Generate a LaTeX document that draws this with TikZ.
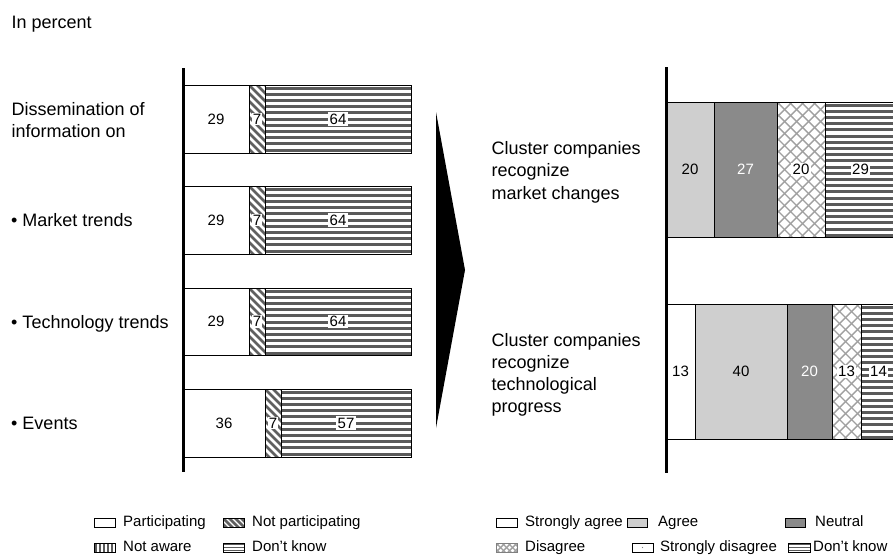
\documentclass[tikz,border=0pt]{standalone}
\usepackage{fontspec}
\setmainfont{Liberation Sans}
\definecolor{stripecol}{HTML}{5A5A5A}
\definecolor{diagcol}{HTML}{606060}
\definecolor{crosscol}{HTML}{A0A0A0}
\definecolor{agreecol}{HTML}{CFCFCF}
\definecolor{neutralcol}{HTML}{8A8A8A}
\tikzset{
  lbl/.style={font=\fontsize{18}{21}\selectfont, inner sep=0pt, anchor=base west},
  num/.style={font=\fontsize{15}{18}\selectfont, inner sep=0pt},
  numbox/.style={num, fill=white, inner sep=1.3pt},
  legtext/.style={font=\fontsize{15}{18}\selectfont, inner sep=0pt, anchor=base west},
  seg/.style={draw=black, line width=0.9pt},
  axisline/.style={line width=3pt},
}
% horizontal stripes: [period]{x1}{y1}{x2}{y2}
\newcommand\HStripes[5][6.2]{%
  \begin{scope}
    \clip (#2,#3) rectangle (#4,#5);
    \fill[white] (#2,#3) rectangle (#4,#5);
    \foreach \k in {0,...,25}
      \draw[stripecol, line width=#1/2] (#2,#3+\k*#1+#1/2) -- (#4,#3+\k*#1+#1/2);
  \end{scope}}
% vertical stripes
\newcommand\VStripes[5][4]{%
  \begin{scope}
    \clip (#2,#3) rectangle (#4,#5);
    \fill[white] (#2,#3) rectangle (#4,#5);
    \foreach \k in {0,...,10}
      \draw[stripecol, line width=#1/2] (#2+\k*#1+#1/2,#3) -- (#2+\k*#1+#1/2,#5);
  \end{scope}}
% diagonal stripes running down to the right
\newcommand\DStripes[5][8]{%
  \begin{scope}
    \clip (#2,#3) rectangle (#4,#5);
    \fill[white] (#2,#3) rectangle (#4,#5);
    \foreach \k in {-14,...,4}
      \draw[diagcol, line width=2.6pt] (#2+\k*#1,#3) -- ++(130,130);
  \end{scope}}
% diagonal cross-hatch
\newcommand\XHatch[5][12]{%
  \begin{scope}
    \clip (#2,#3) rectangle (#4,#5);
    \fill[white] (#2,#3) rectangle (#4,#5);
    \foreach \k in {-15,...,6} {
      \draw[crosscol, line width=1.4pt] (#2+\k*#1,#3) -- ++(150,150);
      \draw[crosscol, line width=1.4pt] (#2+\k*#1,#5) -- ++(150,-150);
    }
  \end{scope}}
\begin{document}
\begin{tikzpicture}[x=1pt,y=-1pt]
\useasboundingbox (0,0) rectangle (893,557);
\fill[white] (0,0) rectangle (893,557);

\node[lbl] (unit) at (11.5,28) {In percent};

% ---------- left chart ----------
\node[lbl] (d1a) at (11.5,115.7) {Dissemination of};
\node[lbl] (d1b) at (11.5,137) {information on};
\node[lbl] (d2) at (11,226.7) {• Market trends};
\node[lbl] (d3) at (11,328) {• Technology trends};
\node[lbl] (d4) at (11,429) {• Events};

% bars: participating / not participating / don't know
\foreach \yt/\yb/\xa/\xb/\pa/\pb/\pc/\nm in {85/153/249/265/29/7/64/b1, 186/254/249/265/29/7/64/b2, 288/355/249/265/29/7/64/b3, 389/457/265/281/36/7/57/b4}{
  \fill[white] (183,\yt) rectangle (\xa,\yb);
  \DStripes{\xa}{\yt}{\xb}{\yb}
  \HStripes{\xb}{\yt}{411}{\yb}
  \draw[seg] (183,\yt) rectangle (411,\yb);
  \draw[seg] (\xa,\yt) -- (\xa,\yb);
  \draw[seg] (\xb,\yt) -- (\xb,\yb);
  \node[num] (\nm p) at ({(183+\xa)/2},{(\yt+\yb)/2}) {\pa};
  \node[numbox] (\nm n) at ({(\xa+\xb)/2},{(\yt+\yb)/2}) {\pb};
  \node[numbox] (\nm d) at ({(\xb+411)/2},{(\yt+\yb)/2}) {\pc};
}
\coordinate (la1) at (183,68);
\coordinate (la2) at (183,472);
\draw[axisline] (la1) -- (la2);

% ---------- transition arrow ----------
\coordinate (ar1) at (436,112);
\coordinate (ar2) at (465,270);
\coordinate (ar3) at (436,428);
\fill[black] (ar1) -- (ar2) -- (ar3) -- cycle;

% ---------- right chart ----------
\node[lbl] (c1a) at (491.5,154) {Cluster companies};
\node[lbl] (c1b) at (491.5,176.5) {recognize};
\node[lbl] (c1c) at (491.5,199) {market changes};
\node[lbl] (c2a) at (491.5,346) {Cluster companies};
\node[lbl] (c2b) at (491.5,368) {recognize};
\node[lbl] (c2c) at (491.5,390) {technological};
\node[lbl] (c2d) at (491.5,412) {progress};

% market changes: agree / neutral / disagree / don't know
\fill[agreecol] (666,102) rectangle (714,237);
\fill[neutralcol] (714,102) rectangle (777,237);
\XHatch{777}{102}{825}{237}
\HStripes{825}{102}{898}{237}
\draw[seg] (666,102) -- (898,102);
\draw[seg] (666,237) -- (898,237);
\foreach \x in {714,777,825} \draw[seg] (\x,102) -- (\x,237);
\node[num] (r1a) at (690,169.5) {20};
\node[num, text=white] (r1b) at (745.5,169.5) {27};
\node[numbox] (r1c) at (801,169.5) {20};
\node[numbox] (r1d) at (860.5,169.5) {29};

% technological progress
\fill[white] (666,304) rectangle (695,439);
\fill[agreecol] (695,304) rectangle (787,439);
\fill[neutralcol] (787,304) rectangle (832,439);
\XHatch{832}{304}{861}{439}
\HStripes{861}{304}{898}{439}
\draw[seg] (666,304) -- (898,304);
\draw[seg] (666,439) -- (898,439);
\foreach \x in {695,787,832,861} \draw[seg] (\x,304) -- (\x,439);
\node[num] (r2a) at (680.5,371.5) {13};
\node[num] (r2b) at (741,371.5) {40};
\node[num, text=white] (r2c) at (809.5,371.5) {20};
\node[numbox] (r2d) at (846.5,371.5) {13};
\node[numbox] (r2e) at (878.5,371.5) {14};

\coordinate (ra1) at (666,67);
\coordinate (ra2) at (666,473);
\draw[axisline] (ra1) -- (ra2);

% ---------- legends ----------
\draw[line width=0.8pt] (94,518) rectangle (115,527);
\node[legtext] (lg1) at (123,526.7) {Participating};
\DStripes[6]{223}{518}{244}{527}
\draw[line width=0.8pt] (223,518) rectangle (244,527);
\node[legtext] (lg2) at (252,526.7) {Not participating};
\VStripes[4]{94}{543}{115}{552}
\draw[line width=0.8pt] (94,543) rectangle (115,552);
\node[legtext] (lg3) at (123,551.7) {Not aware};
\HStripes[3]{223}{543}{244}{552}
\draw[line width=0.8pt] (223,543) rectangle (244,552);
\node[legtext] (lg4) at (252,551.7) {Don’t know};

\draw[line width=0.8pt] (496,518) rectangle (517,527);
\node[legtext] (rg1) at (525,526.7) {Strongly agree};
\draw[line width=0.8pt, fill=agreecol] (627,518) rectangle (647,527);
\node[legtext] (rg2) at (658,526.7) {Agree};
\draw[line width=0.8pt, fill=neutralcol] (785,518) rectangle (805,527);
\node[legtext] (rg3) at (815,526.7) {Neutral};
\XHatch[6]{496}{543}{517}{552}
\draw[line width=0.8pt, draw=gray] (496,543) rectangle (517,552);
\node[legtext] (rg4) at (525,551.7) {Disagree};
\draw[line width=0.8pt] (632,543) rectangle (653,552);
\fill[gray] (642.5,547.5) circle (0.7);
\node[legtext] (rg5) at (660,551.7) {Strongly disagree};
\HStripes[3]{788}{543}{810}{552}
\draw[line width=0.8pt] (788,543) rectangle (810,552);
\node[legtext] (rg6) at (813,551.7) {Don’t know};
\end{tikzpicture}
\end{document}
